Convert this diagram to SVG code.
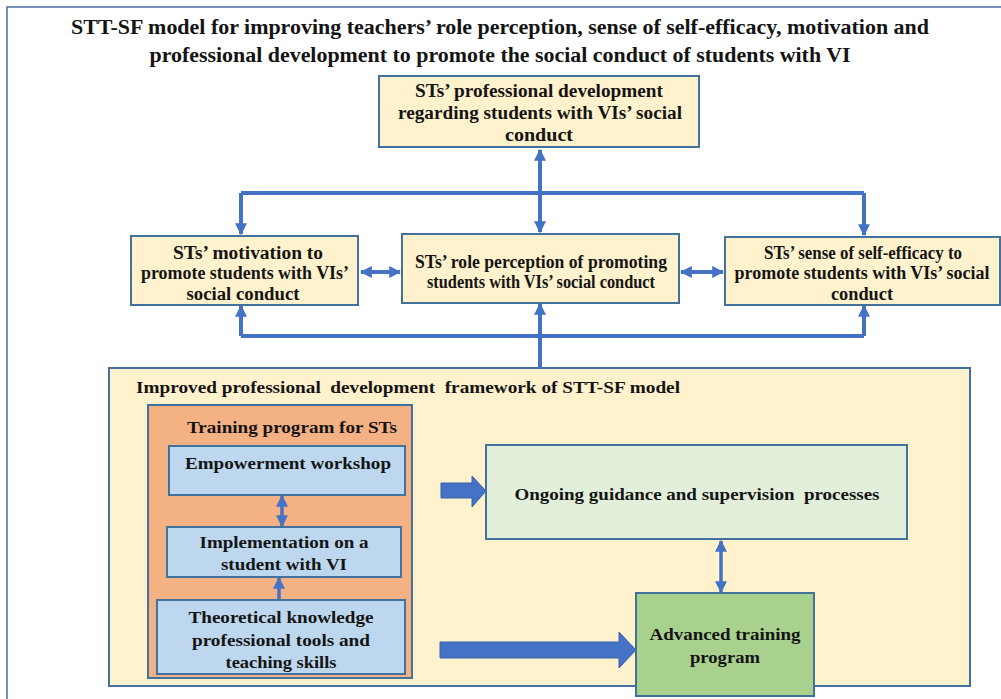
<svg xmlns="http://www.w3.org/2000/svg" width="1001" height="699" viewBox="0 0 1001 699">
<defs>
<style>
text{font-family:"Liberation Serif","Times New Roman",serif;font-weight:bold;fill:#141414;text-anchor:middle;white-space:pre}
.title{font-size:21px}
.t{font-size:18px}
.s{font-size:17px}
.box{stroke:#41719C;stroke-width:2}
.y{fill:#FFF2CC}
.b{fill:#BDD7EE}
.ln{fill:none;stroke:#4472C4;stroke-width:4}
.ln2{fill:none;stroke:#4472C4;stroke-width:3.5}
.blk{fill:#4472C4;stroke:#3A62AD;stroke-width:1}
</style>
<marker id="ah" viewBox="0 0 10 10" refX="9" refY="5" markerWidth="12" markerHeight="12" markerUnits="userSpaceOnUse" orient="auto-start-reverse">
<path d="M0,0 L10,5 L0,10 z" fill="#4472C4"/>
</marker>
</defs>
<rect x="0" y="0" width="1001" height="699" fill="#FFFFFF"/>
<rect x="7" y="7" width="1010" height="700" fill="none" stroke="#4A6FA5" stroke-width="1.5"/>
<text class="title" x="500" y="34" textLength="858" lengthAdjust="spacingAndGlyphs">STT-SF model for improving teachers’ role perception, sense of self-efficacy, motivation and</text>
<text class="title" x="500" y="62" textLength="701" lengthAdjust="spacingAndGlyphs">professional development to promote the social conduct of students with VI</text>

<g id="framework">
<rect class="box y" x="109" y="368" width="861" height="318"/>
<text class="s" x="408" y="393" textLength="544" lengthAdjust="spacingAndGlyphs" xml:space="preserve">Improved professional  development  framework of STT-SF model</text>
</g>
<g id="training">
<rect class="box" x="148" y="405" width="264" height="273" fill="#F4B183"/>
<text class="s" x="292" y="433" textLength="210" lengthAdjust="spacingAndGlyphs">Training program for STs</text>
</g>

<g id="connectors">
<path class="ln" d="M241,193 H864"/>
<path class="ln" d="M241,193 V234" marker-end="url(#ah)"/>
<path class="ln" d="M864,193 V235" marker-end="url(#ah)"/>
<path class="ln" d="M540,150 V232" marker-start="url(#ah)" marker-end="url(#ah)"/>
<path class="ln" d="M241,336 H864"/>
<path class="ln" d="M241,336 V306" marker-end="url(#ah)"/>
<path class="ln" d="M864,336 V306" marker-end="url(#ah)"/>
<path class="ln" d="M540,368 V304" marker-end="url(#ah)"/>
<path class="ln" d="M361,272 H400" marker-start="url(#ah)" marker-end="url(#ah)"/>
<path class="ln" d="M681,272 H723" marker-start="url(#ah)" marker-end="url(#ah)"/>
<path class="ln2" d="M282,496 V526" marker-start="url(#ah)" marker-end="url(#ah)"/>
<path class="ln2" d="M279,600 V578" marker-end="url(#ah)"/>
<path class="ln2" d="M721,541 V592" marker-start="url(#ah)" marker-end="url(#ah)"/>
<polygon class="blk" points="441,483 472,483 472,476 486,491 472,507 472,498 441,498"/>
<polygon class="blk" points="440,642 619,642 619,632 636,650 619,668 619,658 440,658"/>
</g>

<g id="n-profdev">
<rect class="box y" x="379" y="76" width="320" height="71"/>
<text class="t" x="539" y="97" textLength="248" lengthAdjust="spacingAndGlyphs">STs’ professional development</text>
<text class="t" x="540" y="119" textLength="284" lengthAdjust="spacingAndGlyphs">regarding students with VIs’ social</text>
<text class="t" x="539" y="141" textLength="68" lengthAdjust="spacingAndGlyphs">conduct</text>
</g>
<g id="n-motivation">
<rect class="box y" x="131" y="236" width="227" height="69"/>
<text class="t" x="248" y="259" textLength="150" lengthAdjust="spacingAndGlyphs">STs’ motivation to</text>
<text class="t" x="245" y="279" textLength="208" lengthAdjust="spacingAndGlyphs">promote students with VIs’</text>
<text class="t" x="243" y="300" textLength="113" lengthAdjust="spacingAndGlyphs">social conduct</text>
</g>
<g id="n-role">
<rect class="box y" x="402" y="234" width="277" height="69"/>
<text class="t" x="541" y="268" textLength="252" lengthAdjust="spacingAndGlyphs">STs’ role perception of promoting</text>
<text class="t" x="541" y="288" textLength="228" lengthAdjust="spacingAndGlyphs">students with VIs’ social conduct</text>
</g>
<g id="n-efficacy">
<rect class="box y" x="725" y="237" width="275" height="68"/>
<text class="t" x="863" y="259" textLength="198" lengthAdjust="spacingAndGlyphs">STs’ sense of self-efficacy to</text>
<text class="t" x="862" y="279" textLength="255" lengthAdjust="spacingAndGlyphs">promote students with VIs’ social</text>
<text class="t" x="862" y="300" textLength="62" lengthAdjust="spacingAndGlyphs">conduct</text>
</g>

<g id="n-empower">
<rect class="box b" x="169" y="446" width="236" height="49"/>
<text class="s" x="288" y="469" textLength="206" lengthAdjust="spacingAndGlyphs">Empowerment workshop</text>
</g>
<g id="n-implement">
<rect class="box b" x="167" y="527" width="234" height="50"/>
<text class="s" x="284" y="548" textLength="169" lengthAdjust="spacingAndGlyphs">Implementation on a</text>
<text class="s" x="284" y="570" textLength="126" lengthAdjust="spacingAndGlyphs">student with VI</text>
</g>
<g id="n-theory">
<rect class="box b" x="157" y="600" width="248" height="74"/>
<text class="s" x="281" y="623" textLength="185" lengthAdjust="spacingAndGlyphs">Theoretical knowledge</text>
<text class="s" x="281" y="646" textLength="178" lengthAdjust="spacingAndGlyphs">professional tools and</text>
<text class="s" x="281" y="668" textLength="111" lengthAdjust="spacingAndGlyphs">teaching skills</text>
</g>
<g id="n-ongoing">
<rect class="box" x="486" y="445" width="421" height="94" fill="#E2EFDA"/>
<text class="s" x="697" y="500" textLength="365" lengthAdjust="spacingAndGlyphs" xml:space="preserve">Ongoing guidance and supervision  processes</text>
</g>
<g id="n-advanced">
<rect class="box" x="636" y="593" width="178" height="103" fill="#A9D18E"/>
<text class="s" x="725" y="640" textLength="151" lengthAdjust="spacingAndGlyphs">Advanced training</text>
<text class="s" x="725" y="663" textLength="70" lengthAdjust="spacingAndGlyphs">program</text>
</g>
</svg>
